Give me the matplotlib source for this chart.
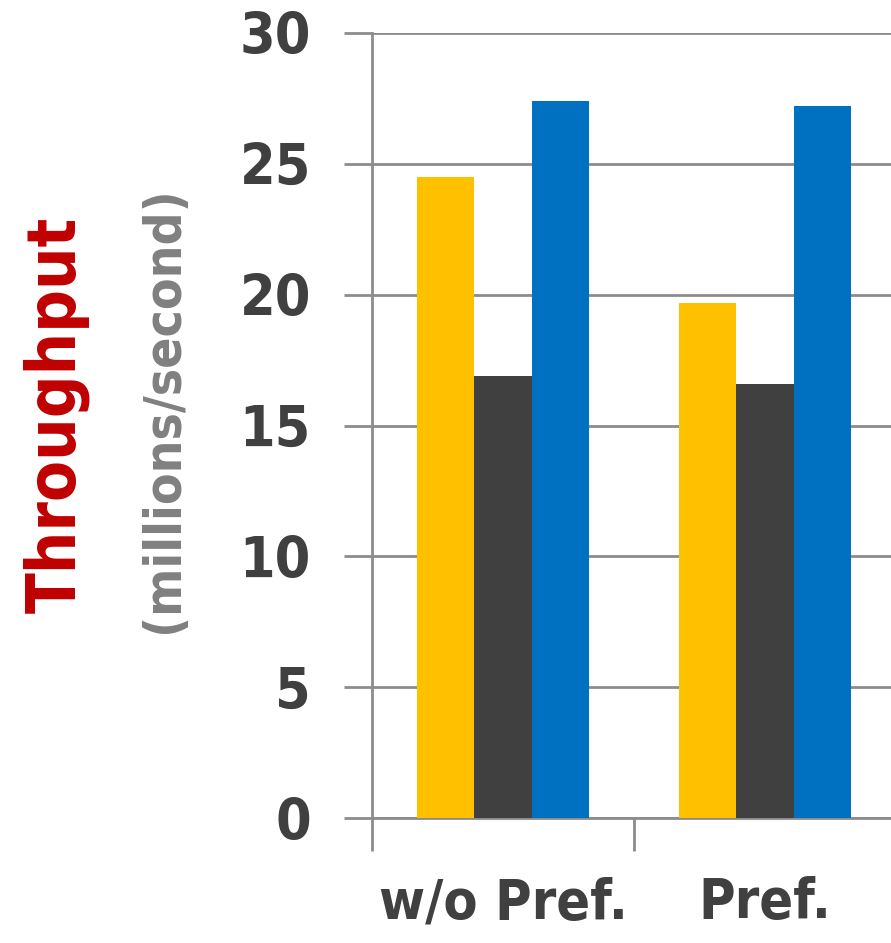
import matplotlib
matplotlib.use("Agg")
import matplotlib.pyplot as plt
import numpy as np

# Datos
categorias = ["w/o Pref.", "Pref."]
serie_amarilla = [24.5, 19.7]
serie_gris = [16.9, 16.6]
serie_azul = [27.4, 27.2]
yticks = [0, 5, 10, 15, 20, 25, 30]

colores = ["#FFC000", "#404040", "#0070C0"]
plt.rcParams["font.family"] = ["DejaVu Sans"]
plt.rcParams["font.stretch"] = "condensed"
plt.rcParams["font.weight"] = "bold"

fig = plt.figure(figsize=(8.91, 9.43), dpi=100)
ax = fig.add_axes([372 / 891, (943 - 818) / 943, 524 / 891, (818 - 33) / 943])

x = np.arange(len(categorias))
ancho = 0.22
for i, (vals, c) in enumerate(zip([serie_amarilla, serie_gris, serie_azul], colores)):
    ax.bar(x + (i - 1) * ancho, vals, width=ancho, color=c, zorder=3)

ax.set_xlim(-0.5, 1.5)
ax.set_ylim(0, 30)
ax.set_yticks(yticks)
ax.yaxis.grid(True, color="#8c8c8c", linewidth=2, zorder=0)
ax.set_axisbelow(True)

for s in ["top", "right"]:
    ax.spines[s].set_visible(False)
for s in ["left", "bottom"]:
    ax.spines[s].set_color("#8c8c8c")
    ax.spines[s].set_linewidth(2)

ax.tick_params(axis="y", length=20, width=2, color="#8c8c8c", labelsize=41,
               labelcolor="#404040", pad=24)
ax.set_xticks(x)
ax.set_xticklabels(categorias)
ax.tick_params(axis="x", which="major", length=0, labelsize=40, labelcolor="#404040", pad=42)
ax.set_xticks([-0.5, 0.5], minor=True)
ax.tick_params(axis="x", which="minor", length=24, width=2, color="#8c8c8c")

fig.text(57 / 891, 1 - 415 / 943, "Throughput", rotation=90, color="#C00000",
         fontsize=48, fontweight="bold", ha="center", va="center")
fig.text(164 / 891, 1 - 410 / 943, "(millions/second)", rotation=90, color="#808080",
         fontsize=37, fontweight="bold", ha="center", va="center")

fig.savefig("out.png", dpi=100)
